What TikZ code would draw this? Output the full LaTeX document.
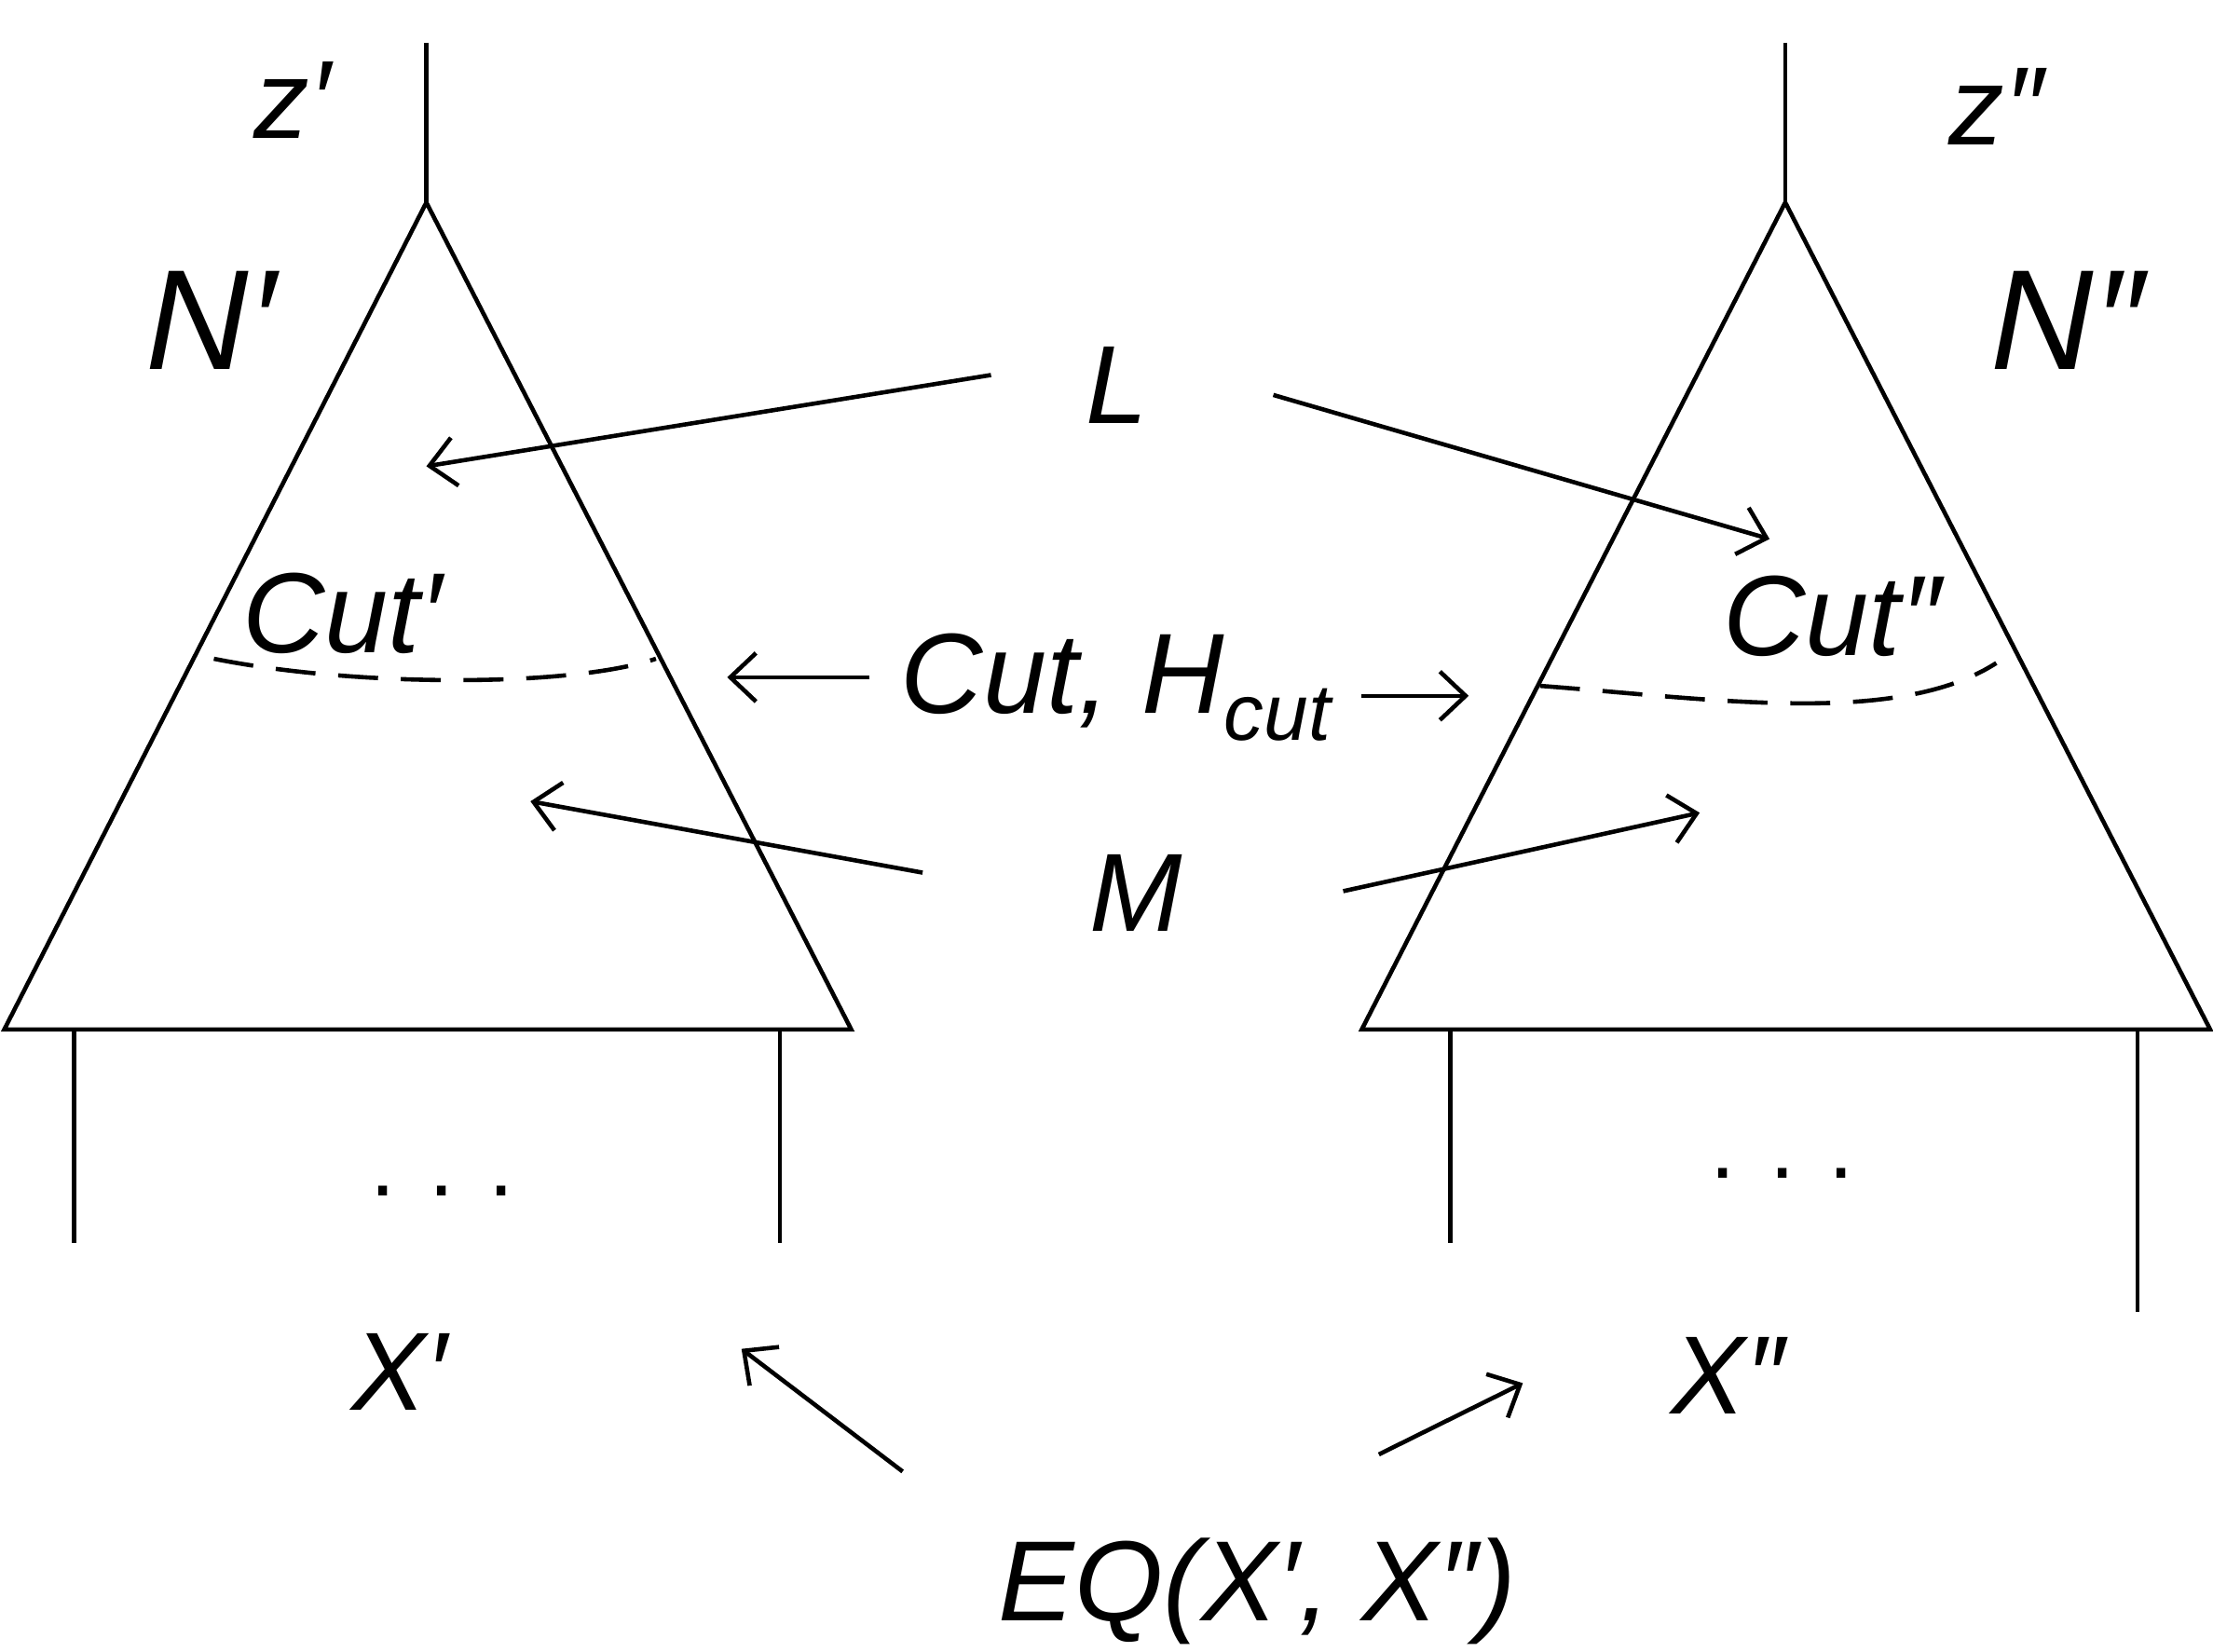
\documentclass[tikz,border=0pt]{standalone}
\usepackage{fontspec}
\setmainfont{Liberation Sans}
\usetikzlibrary{arrows.meta}
\begin{document}
\begin{tikzpicture}[x=0.5pt,y=-0.5pt,line width=1.5pt,
  lbl/.style={inner sep=0pt,font=\itshape},
  arr/.style={-{Straight Barb[length=9pt,width=17pt,line width=1.5pt]}},
  dsh/.style={dash pattern=on 14pt off 8pt}]
\useasboundingbox (0,0) rectangle (1552,1158);
% left tree
\coordinate (la) at (299,142); \coordinate (lt) at (299,30);
\coordinate (lb1) at (3,722); \coordinate (lb2) at (597,722);
\draw (lt) -- (la);
\draw (la) -- (lb2) -- (lb1) -- cycle;
\draw (52,722) -- (52,872) (547,722) -- (547,872);
% right tree
\coordinate (ra) at (1252,142); \coordinate (rt) at (1252,30);
\coordinate (rb1) at (955,722); \coordinate (rb2) at (1550,722);
\draw (rt) -- (ra);
\draw (ra) -- (rb2) -- (rb1) -- cycle;
\draw (1017,722) -- (1017,872) (1499,722) -- (1499,920);
% dashed cuts
\draw[dsh] (150,462) .. controls (250,482) and (400,482) .. (460,462);
\draw[dsh] (1080,481) .. controls (1200,490) and (1330,510) .. (1400,465);
% labels
\node[lbl,font=\itshape\fontsize{39}{41}\selectfont] (zl) at (205,70) {z′};
\node[lbl,font=\itshape\fontsize{50}{52}\selectfont] (nl) at (148,225) {N′};
\node[lbl,font=\itshape\fontsize{39}{41}\selectfont] (zr) at (1400,75) {z″};
\node[lbl,font=\itshape\fontsize{50}{52}\selectfont] (nr) at (1450,225) {N″};
\node[lbl,font=\itshape\fontsize{39}{41}\selectfont] (L) at (783,270) {L};
\node[lbl,font=\itshape\fontsize{40}{42}\selectfont] (cl) at (240,430) {Cut′};
\node[lbl,font=\itshape\fontsize{40}{42}\selectfont] (cr) at (1285,432) {Cut″};
\node[lbl,font=\itshape\fontsize{40}{42}\selectfont] (C) at (783,482) {Cut, H\textsubscript{cut}};
\node[lbl,font=\itshape\fontsize{39}{41}\selectfont] (M) at (797,626) {M};
\node[lbl,font=\fontsize{32}{34}\selectfont] (dl) at (310,835) {. . .};
\node[lbl,font=\fontsize{32}{34}\selectfont] (dr) at (1250,823) {. . .};
\node[lbl,font=\itshape\fontsize{39}{41}\selectfont] (xl) at (280,962) {X′};
\node[lbl,font=\itshape\fontsize{39}{41}\selectfont] (xr) at (1212,965) {X″};
\node[lbl,font=\itshape\fontsize{40}{42}\selectfont] (eq) at (882,1116) {EQ(X′, X″)};
% arrows
\coordinate (a1) at (695,263); \coordinate (a1e) at (299,327);
\coordinate (a2) at (893,277); \coordinate (a2e) at (1241,378);
\coordinate (a3) at (610,475); \coordinate (a3e) at (510,475);
\coordinate (a4) at (955,488); \coordinate (a4e) at (1030,488);
\coordinate (a5) at (647,612); \coordinate (a5e) at (372,562);
\coordinate (a6) at (942,625); \coordinate (a6e) at (1192,570);
\coordinate (a7) at (633,1032); \coordinate (a7e) at (520,946);
\coordinate (a8) at (967,1020); \coordinate (a8e) at (1068,970);
\foreach \a in {1,...,8} \draw[arr] (a\a) -- (a\a e);
\end{tikzpicture}
\end{document}
